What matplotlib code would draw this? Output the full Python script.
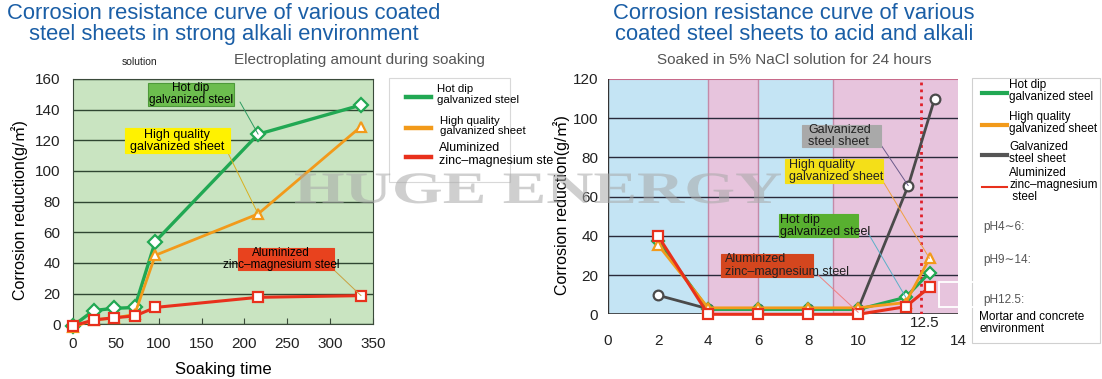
import numpy as np
import matplotlib.pyplot as plt
from matplotlib.patches import Rectangle, PathPatch, ConnectionPatch
from matplotlib.lines import Line2D
from matplotlib.textpath import TextPath
from matplotlib.font_manager import FontProperties
from matplotlib.transforms import Affine2D

plt.rcParams['font.family'] = ['Liberation Sans', 'Noto Sans CJK SC', 'DejaVu Sans']

W, H = 1102, 379

# left chart: strong alkali, soaking time (h)
hours = [0, 24, 48, 72, 96, 216, 336]
hot_dip_l = [-1, 9, 10.4, 11, 54, 124, 143]
high_q_l = [-2, 3, 4, 6.5, 45, 72, 129]
alu_l = [-1, 2.8, 4.3, 5.4, 11, 17.6, 18.7]

# right chart: pH
ph = [2, 4, 6, 8, 10, 11.9, 12.85]
ph_galv = [2, 4, 6, 8, 10, 12, 13.05]
hot_dip_r = [37.5, 2.5, 2.5, 2.5, 2.5, 8.7, 21.2]
high_q_r = [35.4, 3.3, 3.3, 3.3, 3.3, 6, 28.5]
galv_r = [9.7, 2.8, 2.8, 2.8, 2.8, 65.6, 109.8]
alu_r = [40, 0, 0, 0, 0, 3.9, 13.8]

bands = [(0, 4, '#c4e4f4'), (4, 6, '#e7c4dd'), (6, 9, '#c4e4f4'), (9, 14, '#e7c4dd')]

GREEN = '#21a853'
ORANGE = '#f29a1a'
RED = '#e8301c'
BLUE_T = '#1a5ea6'
ylabel = 'Corrosion reduction(g/\u33a1)'


def fx(x):
    return x / W


def fy(y):
    return 1 - y / H


def box(x0, y0, x1, y1, color, ec=None):
    fig.add_artist(Rectangle((fx(x0), fy(y1)), fx(x1 - x0), (y1 - y0) / H,
                             transform=fig.transFigure, facecolor=color,
                             edgecolor=ec if ec else color, lw=0.8, zorder=5))


def connect(ax, x, y, px, py, color):
    fig.add_artist(ConnectionPatch(xyA=(fx(px), fy(py)), coordsA='figure fraction',
                                   xyB=(x, y), coordsB=ax.transData,
                                   color=color, lw=0.7, zorder=4))


fig = plt.figure(figsize=(11.02, 3.79), dpi=100)

# ---------------- left chart ----------------
ax1 = fig.add_axes([fx(73), fy(324.3), fx(300), 245.3 / H])
ax1.set_facecolor('#c9e4c1')
ax1.set_xlim(0, 350)
ax1.set_ylim(0, 160)
ax1.set_yticks(range(0, 161, 20))
ax1.set_xticks(range(0, 351, 50))
ax1.grid(axis='y', color='#2f4632', lw=1)
ax1.set_axisbelow(True)
for s in ax1.spines.values():
    s.set_color('#3a4a3a')
ax1.tick_params(axis='x', direction='in', length=4, color='#3a4a3a', pad=9, labelsize=11, labelcolor='#222')
ax1.tick_params(axis='y', length=0, pad=9, labelsize=11, labelcolor='#222')

mk = dict(markerfacecolor='white', markeredgewidth=1.6, clip_on=False)
ax1.plot(hours, hot_dip_l, color=GREEN, lw=2.4, marker='D', markersize=7, markeredgecolor=GREEN, zorder=3, **mk)
ax1.plot(hours, high_q_l, color=ORANGE, lw=2, marker='^', markersize=7.5, markeredgecolor=ORANGE, zorder=4, **mk)
ax1.plot(hours, alu_l, color=RED, lw=2.2, marker='s', markersize=7.5, markeredgecolor=RED, zorder=5, **mk)

ax1.set_xlabel('Soaking time', fontsize=12, labelpad=8)
fig.text(fx(20), fy(210), ylabel, rotation=90, ha='center', va='center', fontsize=11.5)

fig.text(fx(224), fy(3), 'Corrosion resistance curve of various coated\nsteel sheets in strong alkali environment',
         ha='center', va='top', fontsize=15.8, color=BLUE_T, linespacing=1.0)
fig.text(fx(140), fy(62), 'solution', ha='center', va='center', fontsize=7.5, color='#222')
fig.text(fx(359), fy(60), 'Electroplating amount during soaking', ha='center', va='center',
         fontsize=11, color='#555')

# left annotations
box(148, 83, 234, 106, '#6cbd4e', '#4e9a3a')
fig.text(fx(191), fy(94.5), 'Hot dip\ngalvanized steel', ha='center', va='center', fontsize=8.5, zorder=6, linespacing=1.0)
connect(ax1, 216, 124, 240, 102, '#2c9a60')
box(125, 128, 230, 153, '#fff200')
fig.text(fx(177), fy(140.5), 'High quality\ngalvanized sheet', ha='center', va='center', fontsize=9, zorder=6, linespacing=1.0)
connect(ax1, 216, 72, 228, 153, '#d8b020')
box(238, 248, 334, 270, '#e8421e')
fig.text(fx(281), fy(259), 'Aluminized\nzinc\u2013magnesium steel', ha='center', va='center', fontsize=8.5, zorder=6, linespacing=1.0)
connect(ax1, 336, 18.7, 334, 270, '#c8a040')

# left legend
box(389, 78, 510, 182, 'white', '#d8d8d8')
leg_l = [('Hot dip\ngalvanized steel', GREEN, 96.7, 437, 8.2),
         ('High quality\ngalvanized sheet', ORANGE, 127.7, 440, 8.2),
         ('Aluminized\nzinc\u2013magnesium ste', RED, 156.7, 439, 9)]
for lab, c, y, tx, fs in leg_l:
    fig.add_artist(Line2D([fx(406), fx(431)], [fy(y), fy(y)], color=c, lw=3.2, transform=fig.transFigure, zorder=6))
    fig.text(fx(tx), fy(y - 2), lab, ha='left', va='center', fontsize=fs, zorder=6, linespacing=1.05)

# ---------------- right chart ----------------
ax2 = fig.add_axes([fx(608), fy(314.3), fx(350.3), 235.3 / H])
ax2.set_xlim(0, 14)
ax2.set_ylim(0, 120)
for a, b, c in bands:
    ax2.axvspan(a, b, color=c, lw=0, zorder=0)
for a, b, c in bands[1:]:
    ax2.axvline(a, color='#c48aa8', lw=1, zorder=1)
ax2.axhline(120, color='#c86a8a', lw=1.5, zorder=1)
for v in range(20, 101, 20):
    ax2.axhline(v, color='#2a2a3a', lw=1, zorder=1)
ax2.set_yticks(range(0, 121, 20))
ax2.set_xticks(range(0, 15, 2))
ax2.tick_params(axis='both', length=0, labelsize=11, labelcolor='#222')
ax2.tick_params(axis='x', pad=14)
ax2.tick_params(axis='y', pad=7)
for s in ax2.spines.values():
    s.set_visible(False)
ax2.axvline(0, color='#333', lw=1, zorder=2)
ax2.axhline(0, color='#333', lw=1.2, zorder=2)
ax2.axvline(12.5, color='#e0202a', lw=2, ls=(0, (1, 1.5)), zorder=2)

ax2.plot(ph_galv, galv_r, color='#4a4a4a', lw=2, marker='o', markersize=7, markeredgecolor='#4a4a4a', zorder=3, **mk)
ax2.plot(ph, hot_dip_r, color=GREEN, lw=2.2, marker='D', markersize=6.5, markeredgecolor=GREEN, zorder=4, **mk)
ax2.plot(ph, high_q_r, color=ORANGE, lw=2, marker='^', markersize=7, markeredgecolor=ORANGE, zorder=5, **mk)
ax2.plot(ph, alu_r, color=RED, lw=2.2, marker='s', markersize=7.5, markeredgecolor=RED, zorder=6, **mk)

fig.text(fx(562), fy(205), ylabel, rotation=90, ha='center', va='center', fontsize=11.5)
fig.text(fx(925), fy(323), '12.5', ha='center', va='center', fontsize=11, color='#222')

fig.text(fx(794), fy(3), 'Corrosion resistance curve of various\ncoated steel sheets to acid and alkali',
         ha='center', va='top', fontsize=15.8, color=BLUE_T, linespacing=1.0)
fig.text(fx(794.6), fy(60), 'Soaked in 5% NaCl solution for 24 hours', ha='center', va='center',
         fontsize=11, color='#555')

# right annotations
box(801.7, 125, 880.7, 146.7, '#a9a9a9')
fig.text(fx(808), fy(136), 'Galvanized\nsteel sheet', ha='left', va='center', fontsize=9, color='#222', zorder=6, linespacing=1.0)
connect(ax2, 12, 65.6, 881, 145, '#6a5a8a')
box(785, 159.3, 883.3, 183.3, '#f4df18')
fig.text(fx(789), fy(171), 'High quality\ngalvanized sheet', ha='left', va='center', fontsize=9, color='#222', zorder=6, linespacing=1.0)
connect(ax2, 12.85, 28.5, 884, 183, '#f0a040')
box(779.3, 214, 858.3, 237.3, '#58b030')
fig.text(fx(780), fy(225.5), 'Hot dip\ngalvanized steel', ha='left', va='center', fontsize=9, color='#111', zorder=6, linespacing=1.0)
connect(ax2, 11.9, 8.7, 868, 233, '#5ab0c8')
box(720.7, 254, 813.3, 276.7, '#d4461e')
fig.text(fx(725), fy(265.5), 'Aluminized\nzinc\u2013magnesium steel', ha='left', va='center', fontsize=9, color='#222', zorder=6, linespacing=1.0)
connect(ax2, 10, 1, 818, 275, '#f08080')

# right legend
box(972.3, 78.3, 1100, 343.3, 'white', '#d0d0d0')
leg_r = [('Hot dip\ngalvanized steel', GREEN, 93.3, 3),
         ('High quality\ngalvanized sheet', ORANGE, 125, 3),
         ('Galvanized\nsteel sheet', '#555555', 155, 3),
         ('Aluminized\nzinc\u2013magnesium\n steel', RED, 186.7, 1.5)]
for lab, c, y, lw in leg_r:
    fig.add_artist(Line2D([fx(981.7), fx(1006.7)], [fy(y), fy(y)], color=c, lw=lw, transform=fig.transFigure, zorder=6))
    fig.text(fx(1009.3), fy(y - 2), lab, ha='left', va='center', fontsize=8.5, zorder=6, linespacing=1.0)
ph_notes = [('pH4\u223c6:', 226.7), ('pH9\u223c14:', 260), ('pH12.5:', 300)]
for lab, y in ph_notes:
    fig.text(fx(983.3), fy(y), lab, ha='left', va='center', fontsize=8.5, color='#555', zorder=6)
fig.text(fx(979.3), fy(323.3), 'Mortar and concrete\nenvironment', ha='left', va='center', fontsize=8.5,
         zorder=6, linespacing=1.0)
fig.add_artist(Rectangle((fx(939), fy(307)), fx(36), 25 / H, transform=fig.transFigure,
                         facecolor='none', edgecolor='white', lw=1.3, zorder=7))

# watermark
tp = TextPath((0, 0), 'HUGE ENERGY', size=45, prop=FontProperties(family='Liberation Serif', weight='bold'))
ext = tp.get_extents()
sx = 486 / ext.width
tr = Affine2D().translate(-ext.x0, 0).scale(sx, 1).translate(295, H - 203)
fig.add_artist(PathPatch(tp, transform=tr, facecolor='#a8a8a8', edgecolor='none', alpha=0.55, zorder=10))

fig.savefig('out.png', dpi=100)
